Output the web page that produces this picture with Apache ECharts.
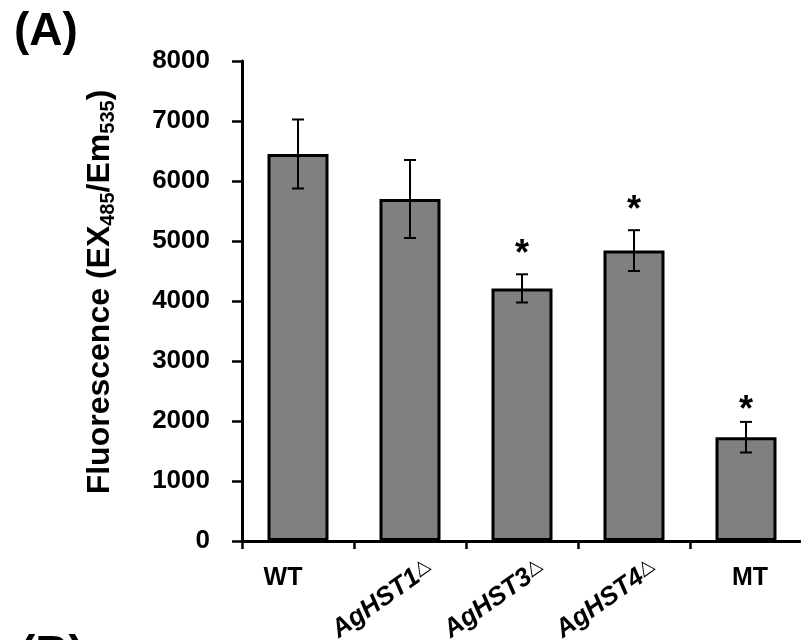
<!DOCTYPE html>
<html><head><meta charset="utf-8">
<script src="https://cdn.jsdelivr.net/npm/echarts@6/dist/echarts.min.js"></script>
<style>html,body{margin:0;padding:0;background:#fff}#c{width:801px;height:640px}</style>
</head><body><div id="c"></div>
<script>
// ---- data ----
const categories = ['WT', 'AgHST1Δ', 'AgHST3Δ', 'AgHST4Δ', 'MT'];
const rotated = [false, true, true, true, false];
const means = [6450, 5700, 4210, 4840, 1730];
const errors = [575, 650, 235, 340, 255];
const starY = [null, null, 4910, 5650, 2320];   // y value where the "*" marks sit
const yMin = 0, yMax = 8000, yInterval = 1000;
const yTitle = ['Fluorescence (EX', '485', '/Em', '535', ')'];

const FONT = "'Liberation Sans', Arial, sans-serif";
const chart = echarts.init(document.getElementById('c'), null, {renderer: 'canvas'});

function labelText(v, isRot) {
  const base = v.replace('Δ', '');
  const hasD = v.indexOf('Δ') >= 0;
  if (isRot) return '{i|' + base + '}' + (hasD ? '{d|△}' : '');
  if (v === 'WT') return '{wt|' + v + '}';
  return '{h|' + v + '}';
}

chart.setOption({
  animation: false,
  backgroundColor: '#fff',
  grid: {left: 242, top: 61, width: 560, height: 480, outerBoundsMode: 'none', containLabel: false},
  xAxis: [{
    type: 'category', data: categories, gridIndex: 0, position: 'bottom',
    axisLine: {lineStyle: {color: '#000', width: 3}},
    axisTick: {show: true, inside: false, length: 8, lineStyle: {color: '#000', width: 2.5}},
    axisLabel: {
      interval: 0, margin: 25, color: '#000',
      formatter: (v, i) => rotated[i] ? '' : labelText(v, false),
      rich: {
        h: {fontSize: 25, fontWeight: 'bold', fontFamily: FONT, color: '#000', padding: [0, 0, 0, 8]},
        wt: {fontSize: 25, fontWeight: 'bold', fontFamily: FONT, color: '#000', padding: [0, 30, 0, 0]}
      }
    },
    splitLine: {show: false}
  }, {
    type: 'category', data: categories, gridIndex: 0, position: 'bottom',
    axisLine: {show: false}, axisTick: {show: false}, splitLine: {show: false},
    axisLabel: {
      interval: 0, margin: 39, rotate: 35, align: 'center', verticalAlign: 'middle',
      padding: [0, 68, 0, 0],
      formatter: (v, i) => rotated[i] ? labelText(v, true) : '',
      rich: {
        i: {fontSize: 26, fontWeight: 'bold', fontStyle: 'italic', fontFamily: FONT, color: '#000'},
        d: {fontSize: 19, fontWeight: 'normal', fontFamily: "'DejaVu Sans', sans-serif", color: '#000', verticalAlign: 'top', padding: [0, 0, 6, 0]}
      }
    }
  }],
  yAxis: {
    type: 'value', min: yMin, max: yMax, interval: yInterval,
    name: '{b|' + yTitle[0] + '}{s|' + yTitle[1] + '}{b|' + yTitle[2] + '}{s|' + yTitle[3] + '}{b|' + yTitle[4] + '}',
    nameLocation: 'middle', nameRotate: 90, nameGap: 126,
    nameTextStyle: {
      padding: [0, 0, 0, 18],
      rich: {
        b: {fontSize: 32, fontWeight: 'bold', fontFamily: FONT, color: '#000', lineHeight: 36, verticalAlign: 'bottom'},
        s: {fontSize: 20, fontWeight: 'bold', fontFamily: FONT, color: '#000', lineHeight: 20, verticalAlign: 'bottom', padding: [0, 0, -2, 0]}
      }
    },
    axisLine: {show: true, lineStyle: {color: '#000', width: 3}},
    axisTick: {show: true, inside: false, length: 10, lineStyle: {color: '#000', width: 2.5}},
    axisLabel: {margin: 32, fontSize: 26, fontWeight: 'bold', fontFamily: FONT, color: '#000', formatter: v => String(v)},
    splitLine: {show: false}
  },
  series: [{
    type: 'bar', xAxisIndex: 0, data: means, barWidth: 61,
    itemStyle: {color: '#808080', borderColor: '#000', borderWidth: 3},
    z: 2
  }, {
    type: 'custom', xAxisIndex: 0, z: 5,
    data: means.map((m, i) => [i, m, errors[i]]),
    encode: {x: 0, y: 1},
    renderItem: function (params, api) {
      const i = api.value(0), m = api.value(1), e = api.value(2);
      const top = api.coord([i, m + e]), bot = api.coord([i, m - e]);
      const x = top[0], hw = 6;
      const st = {stroke: '#000', lineWidth: 2};
      const children = [
        {type: 'line', shape: {x1: x, y1: top[1], x2: x, y2: bot[1]}, style: st},
        {type: 'line', shape: {x1: x - hw, y1: top[1], x2: x + hw, y2: top[1]}, style: st},
        {type: 'line', shape: {x1: x - hw, y1: bot[1], x2: x + hw, y2: bot[1]}, style: st}
      ];
      const s = starY[params.dataIndex];
      if (s != null) {
        const p = api.coord([i, s]);
        children.push({type: 'text', x: p[0], y: p[1] + 9,
          style: {text: '*', fontSize: 36, fontWeight: 'bold', fontFamily: FONT, fill: '#000', align: 'center', verticalAlign: 'middle'}});
      }
      return {type: 'group', children: children};
    }
  }],
  graphic: [
    {type: 'text', left: 14, top: 9, style: {text: '(A)', fontSize: 46, fontWeight: 'bold', fontFamily: FONT, fill: '#000'}},
    {type: 'text', x: 20, y: 632, style: {text: '(B)', fontSize: 46, fontWeight: 'bold', fontFamily: FONT, fill: '#000', verticalAlign: 'top'}}
  ]
});
</script>
</body></html>
